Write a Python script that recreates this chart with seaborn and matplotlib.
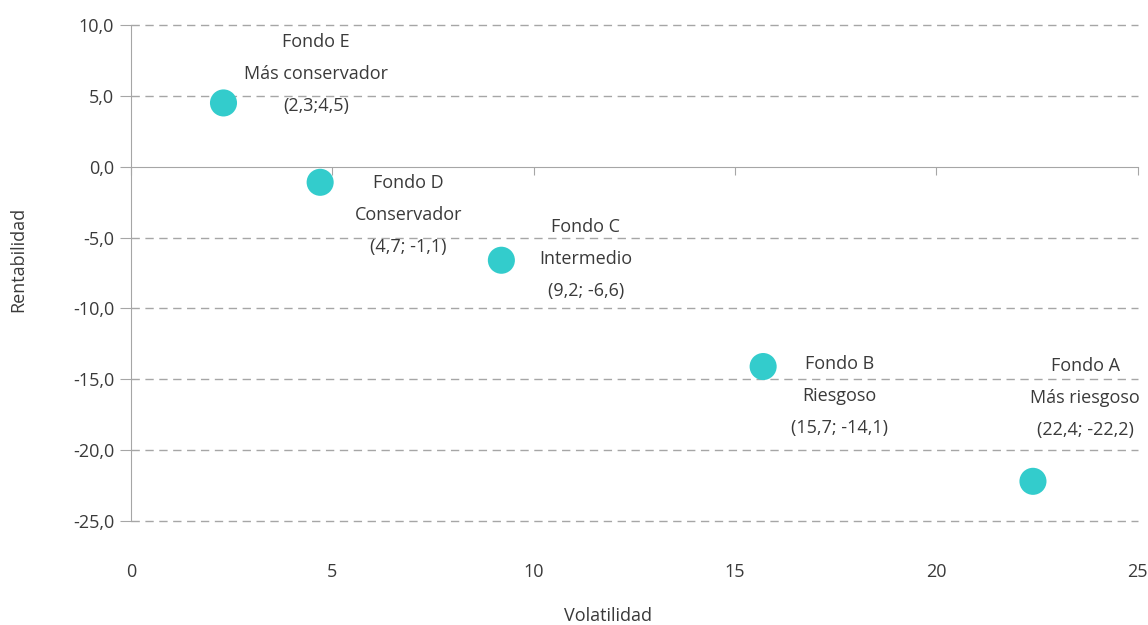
import matplotlib
matplotlib.use("Agg")
import matplotlib.pyplot as plt
import seaborn as sns
import pandas as pd

# data
fondos = ["Fondo A", "Fondo B", "Fondo C", "Fondo D", "Fondo E"]
perfiles = ["Más riesgoso", "Riesgoso", "Intermedio", "Conservador", "Más conservador"]
volatilidad = [22.4, 15.7, 9.2, 4.7, 2.3]
rentabilidad = [-22.2, -14.1, -6.6, -1.1, 4.5]
etiquetas_xy = ["(22,4; -22,2)", "(15,7; -14,1)", "(9,2; -6,6)", "(4,7; -1,1)", "(2,3;4,5)"]
# where each label block sits (data coords)
label_x = [23.7, 17.6, 11.3, 6.9, 4.6]
label_y = [-16.3, -16.2, -6.5, -3.4, 6.55]

x_ticks = [0, 5, 10, 15, 20, 25]
y_ticks = [10, 5, 0, -5, -10, -15, -20, -25]

TEXT = "#3a3a3a"
AXIS = "#a6a6a6"
TURQ = "#33cccc"


def main():
    df = pd.DataFrame({"Volatilidad": volatilidad, "Rentabilidad": rentabilidad})

    sns.set_style("white")
    plt.rcParams["font.family"] = ["Open Sans", "DejaVu Sans"]

    fig = plt.figure(figsize=(11.48, 6.25), dpi=100)
    ax = fig.add_axes([0.114, 0.1664, 0.877, 0.7936])

    sns.scatterplot(data=df, x="Volatilidad", y="Rentabilidad", ax=ax,
                    s=380, color=TURQ, edgecolor="none", zorder=3, clip_on=False)

    ax.set_xlim(0, 25)
    ax.set_ylim(-25, 10)

    # dashed horizontal grid
    for yv in y_ticks:
        if yv != 0:
            ax.axhline(yv, color=AXIS, lw=1, ls=(0, (6, 4)), zorder=1, clip_on=False)

    for sp in ["top", "right"]:
        ax.spines[sp].set_visible(False)
    ax.spines["left"].set_color(AXIS)
    ax.spines["bottom"].set_color(AXIS)
    ax.spines["bottom"].set_position(("data", 0))

    ax.set_yticks(y_ticks)
    ax.set_yticklabels([f"{v:.1f}".replace(".", ",") for v in y_ticks])
    ax.tick_params(axis="y", length=8, color=AXIS, labelsize=13, labelcolor=TEXT, pad=4, left=True)

    ax.set_xticks(x_ticks)
    ax.tick_params(axis="x", length=6, color=AXIS, direction="out", labelbottom=False, bottom=True)

    sec = ax.secondary_xaxis("bottom")
    sec.set_xticks(x_ticks)
    sec.set_xticklabels([str(v) for v in x_ticks])
    sec.spines["bottom"].set_visible(False)
    sec.tick_params(axis="x", length=0, pad=30, labelsize=13, labelcolor=TEXT)

    ax.set_xlabel("")
    ax.set_ylabel("")
    fig.text(0.016, 0.585, "Rentabilidad", fontsize=13, color=TEXT, rotation=90,
             ha="center", va="center")
    fig.text(0.53, 0.0, "Volatilidad", fontsize=13, color=TEXT, ha="center", va="bottom")

    for i in range(len(fondos)):
        txt = f"{fondos[i]}\n{perfiles[i]}\n{etiquetas_xy[i]}"
        ax.text(label_x[i], label_y[i], txt, ha="center", va="center",
                fontsize=13, color=TEXT, linespacing=2.0, zorder=4)

    fig.savefig("out.png", dpi=100)


if __name__ == "__main__":
    main()
